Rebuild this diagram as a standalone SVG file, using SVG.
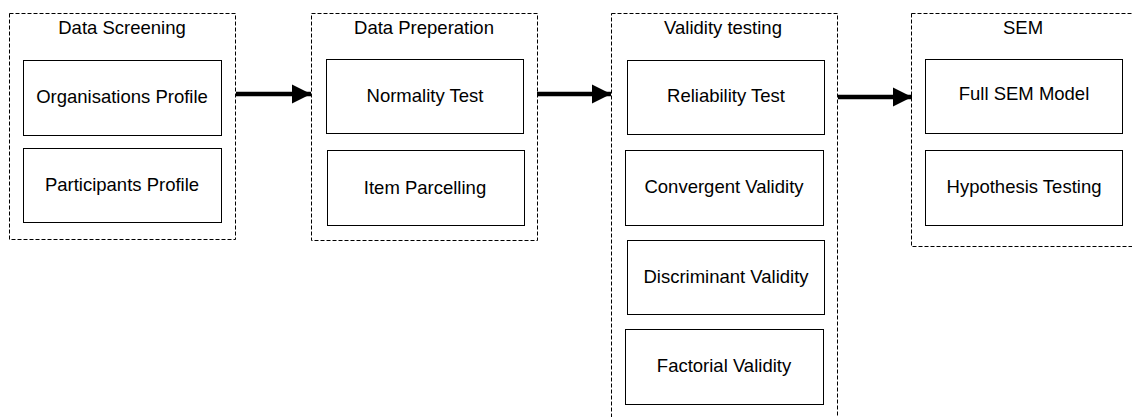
<svg xmlns="http://www.w3.org/2000/svg" width="1132" height="417" viewBox="0 0 1132 417">
<style>
.grp{fill:none;stroke:#000;stroke-width:1;stroke-dasharray:4,2}
.box{fill:#fff;stroke:#000;stroke-width:1}
text{font-family:"Liberation Sans",Arial,sans-serif;font-size:18.5px;fill:#000;text-anchor:middle}
.conn{stroke:#000;stroke-width:4.5;fill:none}
</style>
<defs>
<marker id="ah" markerUnits="userSpaceOnUse" markerWidth="20" markerHeight="20" refX="19" refY="10" orient="auto">
<path d="M0,0.5 L19,10 L0,19.5 Z" fill="#000"/>
</marker>
</defs>
<rect width="1132" height="417" fill="#fff"/>
<g id="grp-screening">
<rect class="grp" x="9.5" y="13.5" width="226" height="226"/>
<text x="122" y="34">Data Screening</text>
</g>
<g id="node-org"><rect class="box" x="23.5" y="60.5" width="198" height="75"/><text x="122" y="103">Organisations Profile</text></g>
<g id="node-part"><rect class="box" x="23.5" y="148.5" width="198" height="74"/><text x="122" y="191">Participants Profile</text></g>

<g id="grp-prep">
<rect class="grp" x="311.5" y="13.5" width="226" height="227"/>
<text x="424" y="34">Data Preperation</text>
</g>
<g id="node-norm"><rect class="box" x="326.5" y="59.5" width="197" height="74"/><text x="425" y="102">Normality Test</text></g>
<g id="node-item"><rect class="box" x="327.5" y="150.5" width="197" height="75"/><text x="425" y="194">Item Parcelling</text></g>

<g id="grp-valid">
<rect class="grp" x="611.5" y="13.5" width="226" height="420"/>
<text x="723" y="34">Validity testing</text>
</g>
<g id="node-rel"><rect class="box" x="627.5" y="60.5" width="197" height="74"/><text x="726" y="102">Reliability Test</text></g>
<g id="node-conv"><rect class="box" x="625.5" y="150.5" width="198" height="75"/><text x="724" y="193">Convergent Validity</text></g>
<g id="node-disc"><rect class="box" x="627.5" y="240.5" width="197" height="74"/><text x="726" y="283">Discriminant Validity</text></g>
<g id="node-fact"><rect class="box" x="625.5" y="329.5" width="198" height="75"/><text x="724" y="372">Factorial Validity</text></g>

<g id="grp-sem">
<rect class="grp" x="911.5" y="13.5" width="240" height="233"/>
<text x="1023" y="34">SEM</text>
</g>
<g id="node-full"><rect class="box" x="925.5" y="59.5" width="197" height="74"/><text x="1024" y="100">Full SEM Model</text></g>
<g id="node-hyp"><rect class="box" x="925.5" y="150.5" width="197" height="75"/><text x="1024" y="193">Hypothesis Testing</text></g>

<g id="connectors">
<line class="conn" x1="236" y1="94" x2="311" y2="94" marker-end="url(#ah)"/>
<line class="conn" x1="537" y1="94" x2="611" y2="94" marker-end="url(#ah)"/>
<line class="conn" x1="838" y1="97" x2="912" y2="97" marker-end="url(#ah)"/>
</g>
</svg>
